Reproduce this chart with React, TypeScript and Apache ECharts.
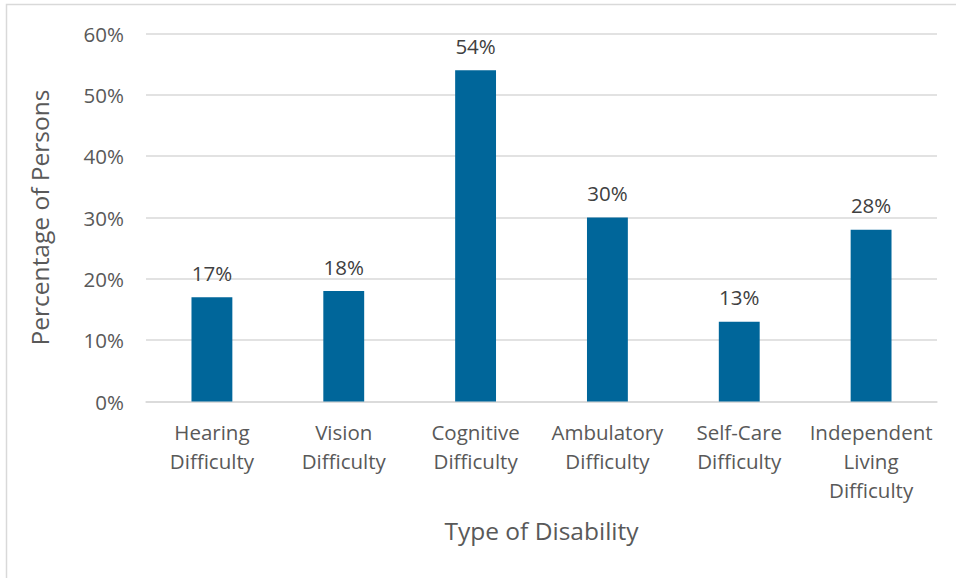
import React, { useEffect, useRef } from "react";
import * as echarts from "echarts";

const categories = [
  "Hearing\nDifficulty",
  "Vision\nDifficulty",
  "Cognitive\nDifficulty",
  "Ambulatory\nDifficulty",
  "Self-Care\nDifficulty",
  "Independent\nLiving\nDifficulty",
];
const values = [17, 18, 54, 30, 13, 28];
const yTicks = { min: 0, max: 60, interval: 10 };

const FONT = "'Open Sans', sans-serif";

export default function App() {
  const ref = useRef<HTMLDivElement>(null);
  useEffect(() => {
    if (!ref.current) return;
    const chart = echarts.init(ref.current, null, { renderer: "svg" });
    chart.setOption({
      animation: false,
      backgroundColor: "#ffffff",
      graphic: [
        {
          type: "rect",
          shape: { x: 6.5, y: 4.5, width: 1000, height: 700 },
          style: { fill: "none", stroke: "#d9d9d9", lineWidth: 1.5 },
          silent: true,
        },
      ],
      grid: { left: 146, right: 19, top: 33.5, bottom: 176.5 },
      xAxis: {
        type: "category",
        data: categories,
        axisTick: { show: false },
        axisLine: { lineStyle: { color: "#d9d9d9", width: 1.5 } },
        axisLabel: {
          color: "#595959",
          fontFamily: FONT,
          fontSize: 20.5,
          lineHeight: 29,
          margin: 16,
          interval: 0,
        },
        name: "Type of Disability",
        nameLocation: "middle",
        nameGap: 116,
        nameTextStyle: { color: "#595959", fontFamily: FONT, fontSize: 24.5 },
      },
      yAxis: {
        type: "value",
        min: yTicks.min,
        max: yTicks.max,
        interval: yTicks.interval,
        axisLabel: {
          color: "#595959",
          fontFamily: FONT,
          fontSize: 20.5,
          margin: 22,
          formatter: "{value}%",
        },
        splitLine: { lineStyle: { color: "#d9d9d9", width: 1.5 } },
        name: "Percentage of Persons",
        nameLocation: "middle",
        nameGap: 94,
        nameRotate: 90,
        nameTextStyle: { color: "#595959", fontFamily: FONT, fontSize: 24.5 },
      },
      series: [
        {
          type: "bar",
          data: values,
          barWidth: "31%",
          itemStyle: { color: "#00669A" },
          label: {
            show: true,
            position: "top",
            distance: 14,
            formatter: "{c}%",
            color: "#404040",
            fontFamily: FONT,
            fontSize: 20.5,
          },
        },
      ],
    });
    return () => chart.dispose();
  }, []);
  return (
    <div
      ref={ref}
      style={{ position: "absolute", left: 0, top: 0, width: 956, height: 578 }}
    />
  );
}
